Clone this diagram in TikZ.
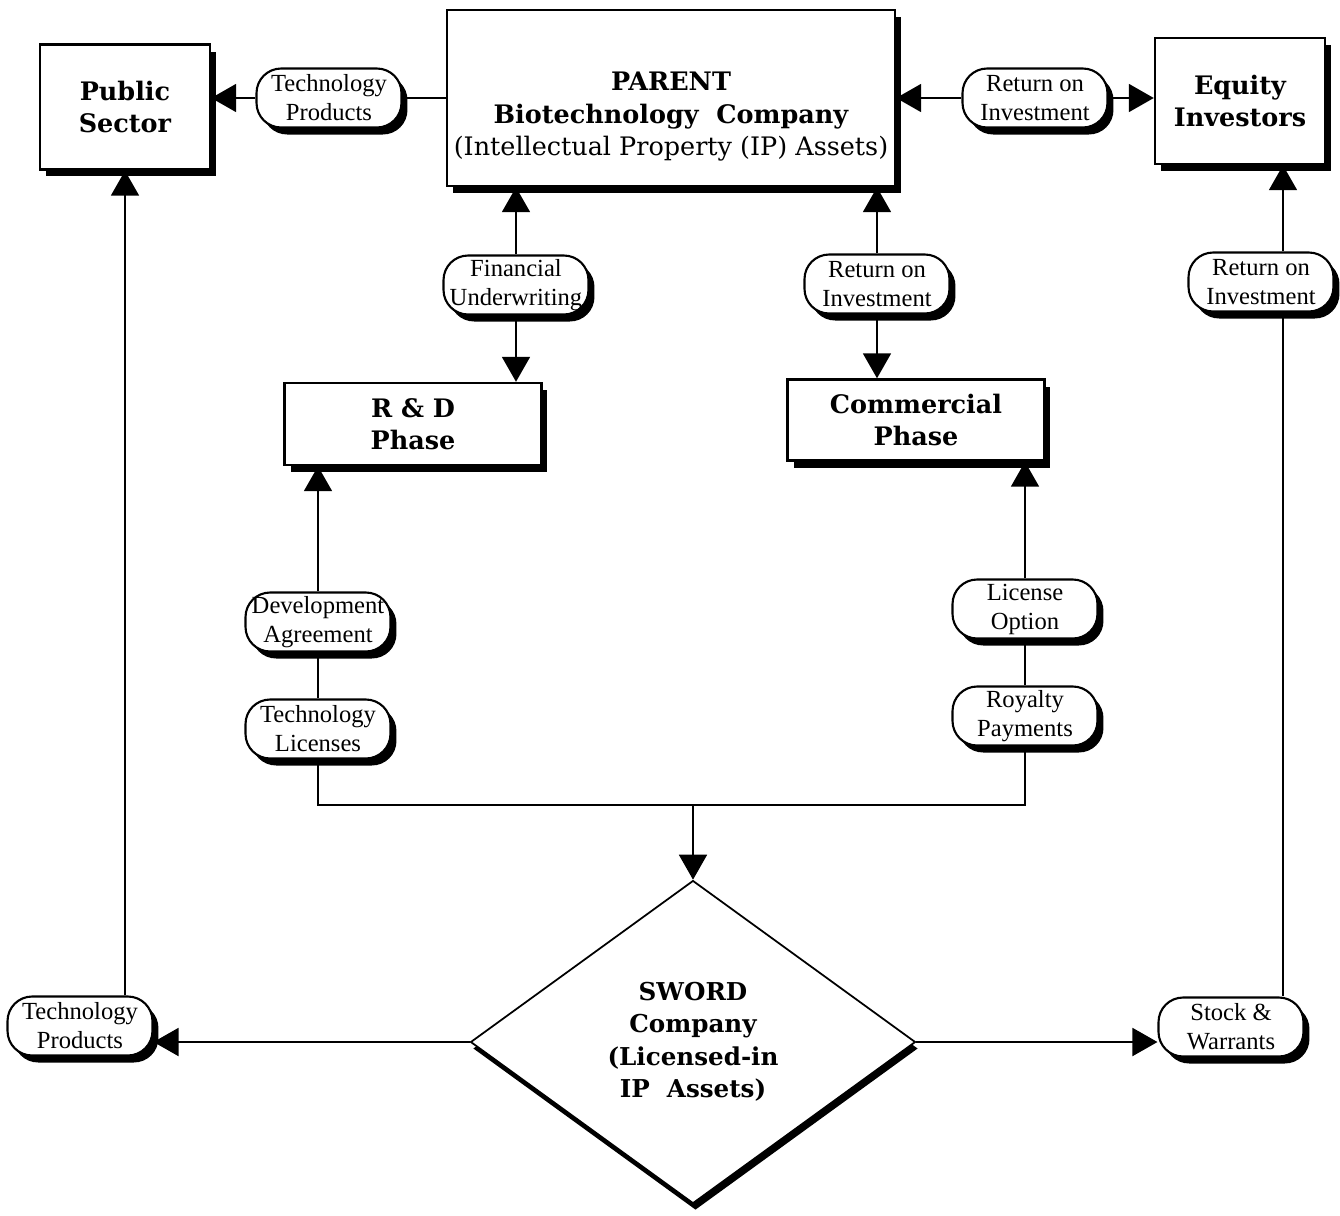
\documentclass[tikz,border=0pt]{standalone}
\usepackage{fontspec}
\setmainfont{Liberation Serif}
\newfontfamily\titlefont{DejaVu Serif}
\usetikzlibrary{arrows.meta}
\usetikzlibrary{positioning}
\usetikzlibrary{shapes.geometric}
\usetikzlibrary{shadows}

\tikzset{
    >={Triangle[length=0.5cm,width=0.56cm]},
    link/.style={line width=1.1pt},
    blackshadow/.style={drop shadow={shadow xshift=0.12cm, shadow yshift=-0.14cm, fill=black, opacity=1}},
    bigbox/.style={draw, line width=1.4pt, fill=white, align=center, inner sep=2pt,
        font=\titlefont\bfseries\fontsize{14.5}{18.5}\selectfont, blackshadow},
    pill/.style={draw, line width=1.2pt, fill=white, rounded corners=14pt, align=center,
        minimum width=2.9cm, minimum height=1.18cm, inner sep=1pt,
        font=\fontsize{14}{16.5}\selectfont, blackshadow},
}

\begin{document}
\begin{tikzpicture}[x=0.02cm, y=-0.02cm]

    \useasboundingbox (0,0) rectangle (1340,1215);

    % 方框
    \node[bigbox, minimum width=3.4cm, minimum height=2.5cm] (pub) at (125,107) {Public\\Sector};
    \node[bigbox, minimum width=8.96cm, minimum height=3.52cm] (parent) at (671,98)
        {\raisebox{0pt}[\dimexpr\height+0.75cm\relax][\depth]{\begin{tabular}{@{}c@{}}PARENT\\Biotechnology\ \ Company\\\mdseries(Intellectual Property (IP) Assets)\end{tabular}}};
    \node[bigbox, minimum width=3.4cm, minimum height=2.52cm] (equity) at (1240,101) {Equity\\Investors};
    \node[bigbox, minimum width=5.14cm, minimum height=1.64cm] (rnd) at (413,424) {R \& D\\Phase};
    \node[bigbox, minimum width=5.14cm, minimum height=1.62cm] (comm) at (916,420) {Commercial\\Phase};

    % 菱形
    \node[diamond, draw, line width=1pt, fill=white, minimum width=8.9cm, minimum height=6.46cm,
        inner sep=0pt, align=center, font=\titlefont\bfseries\fontsize{14}{18.5}\selectfont,
        drop shadow={shadow xshift=0.05cm, shadow yshift=-0.13cm, fill=black, opacity=1}]
        (sword) at (693,1042) {SWORD\\Company\\(Licensed-in\\IP\ \ Assets)};

    % 标签
    \node[pill] (tp1) at (329,98) {Technology\\Products};
    \node[pill] (roi1) at (1035,98) {Return on\\Investment};
    \node[pill] (fin) at (516,285) {Financial\\Underwriting};
    \node[pill] (roi2) at (877,284) {Return on\\Investment};
    \node[pill] (roi3) at (1261,282) {Return on\\Investment};
    \node[pill] (dev) at (318,622) {Development\\Agreement};
    \node[pill] (tl) at (318,729) {Technology\\Licenses};
    \node[pill] (lic) at (1025,609) {License\\Option};
    \node[pill] (roy) at (1025,716) {Royalty\\Payments};
    \node[pill] (tp2) at (80,1026) {Technology\\Products};
    \node[pill] (sw) at (1231,1027) {Stock \&\\Warrants};

    \coordinate (bus) at (693,805);
    \coordinate (rx) at (1283,0);

    % 上方连线
    \draw[link] (parent.west |- tp1) -- (tp1.east);
    \draw[link,->] (tp1.west) -- (tp1.west -| pub.east);
    \draw[link,->] (roi1.west) -- (roi1.west -| parent.east);
    \draw[link,->] (roi1.east) -- (roi1.east -| equity.west);

    % 中间连线
    \draw[link,->] (fin.north) -- (fin.north |- parent.south);
    \draw[link,->] (fin.south) -- (fin.south |- rnd.north);
    \draw[link,->] (roi2.north) -- (roi2.north |- parent.south);
    \draw[link,->] (roi2.south) -- (roi2.south |- comm.north);
    \draw[link,->] (dev.north) -- (dev.north |- rnd.south);
    \draw[link] (dev.south) -- (tl.north);
    \draw[link,->] (lic.north) -- (lic.north |- comm.south);
    \draw[link] (lic.south) -- (roy.north);
    \draw[link] (tl.south) |- (bus) -| (roy.south);
    \draw[link,->] (bus) -- (sword.north);

    % 下方连线
    \draw[link,->] (sword.west) -- (sword.west -| tp2.east);
    \draw[link,->] (tp2.north -| pub.south) -- (pub.south);
    \draw[link,->] (sword.east) -- (sword.east -| sw.west);
    \draw[link] (sw.north -| rx) -- (roi3.south -| rx);
    \draw[link,->] (roi3.north -| rx) -- (equity.south -| rx);

\end{tikzpicture}
\end{document}
